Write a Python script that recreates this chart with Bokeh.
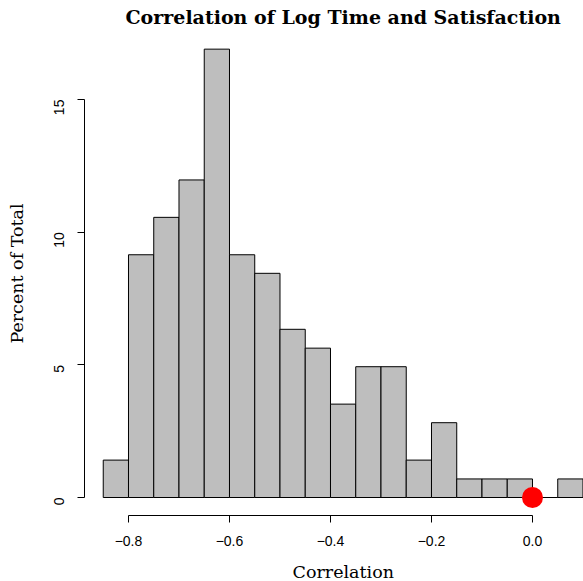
import math
from bokeh.plotting import figure
from bokeh.models import FixedTicker, ColumnDataSource, Title
from bokeh.embed import file_html
from bokeh.resources import INLINE

# histogram data (percent of total, bin width 0.05)
bin_left = [-0.85, -0.80, -0.75, -0.70, -0.65, -0.60, -0.55, -0.50, -0.45, -0.40,
            -0.35, -0.30, -0.25, -0.20, -0.15, -0.10, -0.05, 0.00, 0.05]
percent = [1.41, 9.15, 10.56, 11.97, 16.90, 9.15, 8.45, 6.34, 5.63, 3.52,
           4.93, 4.93, 1.41, 2.82, 0.70, 0.70, 0.70, 0.00, 0.70]
bin_width = 0.05
x_ticks = [-0.8, -0.6, -0.4, -0.2, 0.0]
x_tick_labels = ["\u22120.8", "\u22120.6", "\u22120.4", "\u22120.2", "0.0"]
y_ticks = [0, 5, 10, 15]
marker_x = [0.0]
marker_y = [0.0]

W, H = 583, 581
BL, BR, BT, BB = 84, 0, 31, 66

p = figure(width=W, height=H, output_backend="svg", toolbar_location=None,
           x_range=(-0.8871, 0.1010), y_range=(-0.678, 17.565),
           min_border_left=BL, min_border_right=BR, min_border_top=BT,
           min_border_bottom=BB, background_fill_color="white",
           border_fill_color="white")
p.outline_line_color = None
p.grid.visible = False

src = ColumnDataSource(dict(
    left=bin_left,
    right=[b + bin_width for b in bin_left],
    top=percent,
    bottom=[0] * len(percent),
))
p.quad(left="left", right="right", top="top", bottom="bottom", source=src,
       fill_color="#BEBEBE", line_color="black", line_width=1)
p.scatter(marker_x, marker_y, size=21, fill_color="#FF0000", line_color=None)

xa = p.xaxis[0]
xa.ticker = FixedTicker(ticks=x_ticks)
xa.major_label_overrides = {t: l for t, l in zip(x_ticks, x_tick_labels)}
xa.bounds = (x_ticks[0], x_ticks[-1])
xa.minor_tick_line_color = None
xa.major_tick_out = 7
xa.major_tick_in = 0
xa.major_label_standoff = 13
xa.major_label_text_font = "Liberation Sans"
xa.major_label_text_font_size = "14px"
xa.major_label_text_color = "black"
xa.axis_line_color = "black"
xa.major_tick_line_color = "black"

ya = p.yaxis[0]
ya.ticker = FixedTicker(ticks=y_ticks)
ya.bounds = (y_ticks[0], y_ticks[-1])
ya.minor_tick_line_color = None
ya.major_tick_out = 7
ya.major_tick_in = 0
ya.major_label_standoff = 18
ya.major_label_orientation = math.pi / 2
ya.major_label_text_font = "Liberation Sans"
ya.major_label_text_font_size = "14px"
ya.major_label_text_color = "black"
ya.axis_line_color = "black"
ya.major_tick_line_color = "black"
ya.axis_label = "Percent of Total"
ya.axis_label_text_font = "DejaVu Serif"
ya.axis_label_text_font_style = "normal"
ya.axis_label_text_font_size = "17.5px"
ya.axis_label_text_color = "black"
ya.axis_label_standoff = 20

title = Title(text="Correlation of Log Time and Satisfaction", align="left",
              offset=41, text_font="DejaVu Serif", text_font_style="bold",
              text_font_size="19px", text_color="black", standoff=6,
              vertical_align="middle")
p.add_layout(title, "above")

xlab = Title(text="Correlation", align="left", offset=208,
             text_font="DejaVu Serif", text_font_style="normal",
             text_font_size="17.5px", text_color="black", standoff=0,
             padding=dict(left=0, right=0, top=11, bottom=0))
p.add_layout(xlab, "below")

open("out.html", "w").write(file_html(p, INLINE))
